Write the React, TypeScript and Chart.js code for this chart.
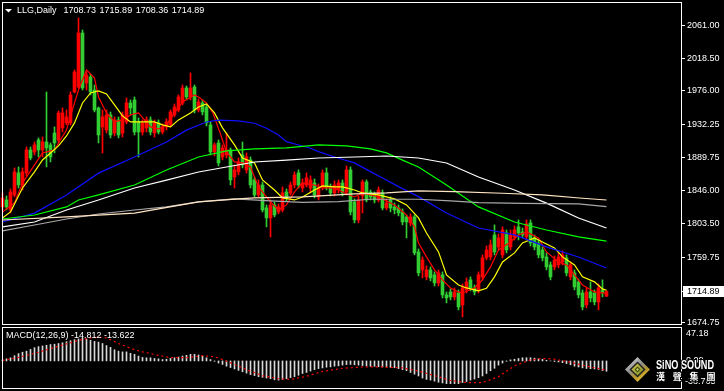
import React, { useEffect, useRef } from "react";
import { Chart, registerables } from "chart.js";
Chart.register(...registerables);

const FONT = '"Liberation Sans", Arial, sans-serif';
const UP = "#FF0000";
const DOWN = "#32CD32";

const symbolName = "LLG,Daily";

const opens = [
  1825.0, 1834.1, 1821.1, 1840.6, 1869.3, 1853.6, 1869.3, 1899.2, 1896.6, 1912.2,
  1899.2, 1909.6, 1905.7, 1921.3, 1912.2, 1927.9, 1934.4, 1934.4, 1974.7, 1981.2,
  2051.5, 1986.4, 1994.2, 1977.3, 1953.9, 1929.2, 1925.2, 1944.8, 1921.3, 1938.3,
  1921.3, 1935.7, 1960.4, 1964.3, 1935.7, 1922.6, 1927.9, 1938.3, 1921.3, 1934.4,
  1922.6, 1929.2, 1931.8, 1944.8, 1951.3, 1960.4, 1979.9, 1968.2, 1981.2, 1951.3,
  1960.4, 1955.2, 1931.8, 1896.6, 1908.3, 1890.1, 1892.7, 1899.2, 1864.1, 1870.6,
  1892.7, 1873.2, 1886.2, 1860.2, 1840.6, 1853.6, 1823.7, 1810.7, 1827.6, 1818.5,
  1821.1, 1844.5, 1843.2, 1853.6, 1869.3, 1849.7, 1853.6, 1849.7, 1856.2, 1838.0,
  1851.0, 1869.3, 1851.0, 1843.2, 1847.1, 1856.2, 1844.5, 1873.2, 1831.5, 1808.1,
  1839.3, 1857.5, 1844.5, 1840.6, 1834.1, 1843.2, 1823.7, 1834.1, 1825.0, 1823.7,
  1818.5, 1812.0, 1804.2, 1812.0, 1766.4, 1743.0, 1733.9, 1743.0, 1736.5, 1726.1,
  1736.5, 1710.4, 1714.3, 1707.8, 1713.0, 1697.4, 1716.9, 1730.0, 1719.5, 1716.9,
  1733.9, 1758.6, 1759.9, 1788.5, 1772.9, 1762.5, 1791.1, 1772.9, 1785.9, 1799.0,
  1792.4, 1785.9, 1804.2, 1784.6, 1778.1, 1769.0, 1759.9, 1749.5, 1746.9, 1749.5,
  1753.4, 1758.6, 1733.9, 1739.1, 1727.4, 1713.0, 1697.4, 1714.3, 1713.0, 1701.3,
  1716.9, 1708.73,
];
const highs = [
  1843.2, 1839.3, 1848.4, 1875.8, 1877.1, 1875.8, 1903.1, 1903.1, 1909.6, 1914.8,
  1916.1, 1974.7, 1908.3, 1929.2, 1950.0, 1953.9, 1951.3, 1974.7, 2003.4, 2071.1,
  2055.4, 2000.8, 1998.2, 1983.8, 1955.2, 1951.3, 1951.3, 1948.7, 1942.2, 1942.2,
  1948.7, 1966.9, 1964.3, 1968.2, 1940.9, 1938.3, 1942.2, 1942.2, 1938.3, 1938.3,
  1933.1, 1939.6, 1951.3, 1959.1, 1970.8, 1983.8, 1982.5, 1999.5, 1983.8, 1965.6,
  1964.3, 1957.8, 1935.7, 1908.3, 1912.2, 1905.7, 1921.3, 1901.8, 1879.7, 1888.8,
  1909.6, 1895.3, 1890.1, 1864.1, 1860.2, 1857.5, 1827.6, 1834.1, 1831.5, 1828.9,
  1851.0, 1848.4, 1857.5, 1870.6, 1873.2, 1861.5, 1869.3, 1865.4, 1861.5, 1854.9,
  1873.2, 1875.8, 1854.9, 1858.9, 1860.2, 1860.2, 1878.4, 1877.1, 1835.4, 1839.3,
  1860.2, 1860.2, 1847.1, 1844.5, 1851.0, 1847.1, 1835.4, 1838.0, 1830.2, 1827.6,
  1822.4, 1814.6, 1815.9, 1814.6, 1770.3, 1759.9, 1748.2, 1746.9, 1740.4, 1743.0,
  1740.4, 1714.3, 1718.2, 1719.5, 1716.9, 1724.7, 1732.6, 1733.9, 1723.4, 1740.4,
  1762.5, 1774.2, 1782.0, 1801.6, 1789.8, 1799.0, 1795.0, 1795.0, 1800.3, 1808.1,
  1797.6, 1808.1, 1808.1, 1788.5, 1782.0, 1772.9, 1765.1, 1753.4, 1761.2, 1765.1,
  1767.7, 1762.5, 1753.4, 1743.0, 1731.3, 1716.9, 1719.5, 1727.4, 1716.9, 1724.7,
  1730.0, 1715.89,
];
const lows = [
  1821.1, 1821.1, 1817.2, 1838.0, 1849.7, 1847.1, 1865.4, 1886.2, 1892.7, 1890.1,
  1890.1, 1877.1, 1883.6, 1895.3, 1908.3, 1922.6, 1931.8, 1931.8, 1973.4, 1979.9,
  1977.3, 1977.3, 1970.8, 1948.7, 1908.3, 1895.3, 1921.3, 1914.8, 1917.4, 1914.8,
  1916.1, 1933.1, 1944.8, 1918.7, 1890.1, 1918.7, 1922.6, 1918.7, 1916.1, 1920.0,
  1920.0, 1925.2, 1929.2, 1942.2, 1948.7, 1957.8, 1964.3, 1964.3, 1947.4, 1948.7,
  1944.8, 1930.5, 1892.7, 1891.4, 1878.4, 1886.2, 1888.8, 1853.6, 1849.7, 1866.7,
  1875.8, 1869.3, 1849.7, 1838.0, 1838.0, 1818.5, 1799.0, 1785.9, 1812.0, 1815.9,
  1818.5, 1832.8, 1840.6, 1849.7, 1849.7, 1844.5, 1851.0, 1843.2, 1836.7, 1834.1,
  1847.1, 1847.1, 1839.3, 1839.3, 1843.2, 1839.3, 1840.6, 1814.6, 1804.2, 1804.2,
  1817.2, 1831.5, 1834.1, 1830.2, 1831.5, 1821.1, 1821.1, 1818.5, 1815.9, 1813.3,
  1801.6, 1784.6, 1800.3, 1762.5, 1735.2, 1732.6, 1730.0, 1728.7, 1722.1, 1722.1,
  1706.5, 1700.0, 1703.9, 1703.9, 1690.9, 1681.8, 1713.0, 1715.6, 1710.4, 1713.0,
  1730.0, 1756.0, 1756.0, 1762.5, 1769.0, 1758.6, 1765.1, 1769.0, 1782.0, 1782.0,
  1784.6, 1782.0, 1774.2, 1769.0, 1758.6, 1754.7, 1743.0, 1730.0, 1743.0, 1745.6,
  1749.5, 1735.2, 1730.0, 1716.9, 1706.5, 1690.9, 1693.5, 1701.3, 1697.4, 1690.9,
  1707.8, 1708.36,
];
const closes = [
  1836.7, 1825.0, 1844.5, 1870.6, 1853.6, 1870.6, 1899.2, 1888.8, 1905.7, 1899.2,
  1909.6, 1901.8, 1890.1, 1908.3, 1947.4, 1947.4, 1942.2, 1970.8, 2000.8, 2051.5,
  1979.9, 1996.9, 1974.7, 1951.3, 1918.7, 1942.2, 1944.8, 1918.7, 1938.3, 1918.7,
  1944.8, 1960.4, 1953.9, 1922.6, 1922.6, 1934.4, 1938.3, 1922.6, 1934.4, 1922.6,
  1929.2, 1935.7, 1948.7, 1955.2, 1968.2, 1979.9, 1968.2, 1979.9, 1951.3, 1961.7,
  1948.7, 1934.4, 1896.6, 1905.7, 1882.3, 1901.8, 1899.2, 1860.2, 1873.2, 1883.6,
  1879.7, 1890.1, 1853.6, 1840.6, 1853.6, 1821.1, 1810.7, 1827.6, 1814.6, 1825.0,
  1843.2, 1836.7, 1853.6, 1866.7, 1853.6, 1856.2, 1862.8, 1860.2, 1840.6, 1849.7,
  1869.3, 1849.7, 1843.2, 1853.6, 1856.2, 1843.2, 1873.2, 1818.5, 1808.1, 1834.1,
  1857.5, 1834.1, 1838.0, 1834.1, 1847.1, 1823.7, 1830.2, 1823.7, 1821.1, 1817.2,
  1805.5, 1805.5, 1812.0, 1765.1, 1739.1, 1756.0, 1743.0, 1732.6, 1726.1, 1739.1,
  1710.4, 1706.5, 1707.8, 1714.3, 1694.8, 1719.5, 1727.4, 1719.5, 1714.3, 1736.5,
  1758.6, 1769.0, 1775.5, 1766.4, 1784.6, 1795.0, 1769.0, 1788.5, 1795.0, 1791.1,
  1788.5, 1802.9, 1778.1, 1772.9, 1762.5, 1758.6, 1746.9, 1733.9, 1756.0, 1759.9,
  1762.5, 1739.1, 1749.5, 1720.8, 1710.4, 1694.8, 1714.3, 1706.5, 1701.3, 1719.5,
  1713.0, 1714.89,
];

// moving averages: [bar index, price]
const maRed = [[0,1818.5],[3,1830.2],[5,1856.2],[8,1879.7],[10,1895.3],[13,1899.2],[14,1908.3],[16,1925.2],[18,1960.4],[19,1977.3],[21,2003.4],[23,1992.9],[24,1968.2],[26,1947.4],[28,1935.7],[30,1938.3],[32,1944.8],[34,1947.4],[37,1929.2],[39,1926.5],[41,1931.8],[43,1947.4],[45,1961.7],[48,1970.8],[49,1968.2],[51,1960.4],[52.6,1947.4],[54.4,1921.3],[56,1896.6],[58,1883.6],[60,1882.3],[62,1877.1],[64,1851],[67,1831.5],[69,1821.1],[71,1827.6],[73,1844.5],[75,1856.2],[78,1853.6],[80,1849.7],[83,1849.7],[85,1844.5],[88,1838],[90,1843.2],[94,1838],[98,1827.6],[101,1814.6],[103,1799],[104,1778.1],[106,1759.9],[108,1743],[110,1730],[112,1719.5],[114,1714.3],[115,1713],[118,1719.5],[120,1730],[122,1746.9],[124,1769],[127,1779.4],[129,1788.5],[131,1792.4],[134,1784.6],[136,1766.4],[139,1753.4],[141,1749.5],[143,1736.5],[145,1723.4],[148,1714.3],[150,1713],[151,1712.5]];
const maYellow = [[0,1810.7],[2,1818.5],[5,1849.7],[8,1870.6],[10,1886.2],[12,1895.3],[14,1904.4],[16,1917.4],[18,1934.4],[20,1960.4],[22,1973.4],[24,1976],[26,1972.1],[28,1957.8],[30,1943.5],[32,1935.7],[34,1935.7],[38,1935.7],[40,1931.8],[42,1929.2],[44,1938.3],[47,1947.4],[49,1955.2],[51,1959.1],[53,1947.4],[55,1927.9],[58,1905.7],[60,1888.8],[63,1882.3],[65,1860.2],[68,1847.1],[70,1836.7],[73,1834.1],[75,1838],[78,1847.1],[80,1852.3],[83,1851],[85,1851],[88,1847.1],[90,1843.2],[94,1840.6],[98,1835.4],[101,1827.6],[104,1810.7],[106,1791.1],[109,1766.4],[111,1736.5],[114,1723.4],[116,1719.5],[119,1715.6],[121,1719],[123,1733.9],[125,1753.4],[128,1765.1],[130,1778.1],[133,1784.6],[135,1779.4],[138,1771.6],[140,1759.9],[143,1749.5],[145,1733.9],[148,1727.4],[150,1718.2],[151,1716.5]];
const maBlue = [[0,1805.4],[8,1817],[16,1840.6],[24,1869],[33,1890],[41,1909.6],[46,1925],[51,1935.6],[54,1938],[59,1937],[63,1934],[66,1927.5],[69,1918.7],[71,1910],[74,1905.7],[77,1901.4],[79,1897],[84,1888.4],[88,1882.3],[92,1871],[95,1862.7],[99,1851.4],[104,1838.4],[111,1817],[119,1797.6],[128,1788.5],[136,1772.9],[144,1759.8],[151,1745.5]];
const maGreen = [[0,1809.3],[8,1814.5],[16,1825],[19,1834.1],[24,1840.6],[33,1853.6],[41,1873],[49,1890],[56,1898],[63,1900.5],[71,1901.8],[79,1905.7],[86,1904.4],[92,1900.5],[96,1895.3],[100,1886],[104,1877],[111,1853.6],[119,1825],[128,1805.4],[136,1795],[144,1786],[151,1780.5]];
const maWhite = [[0,1798.9],[8,1805.4],[16,1821],[24,1834],[33,1849.7],[41,1860],[49,1870.5],[56,1877],[63,1883.5],[71,1886],[79,1888.7],[88,1890],[96,1891.3],[104,1888.7],[111,1882.2],[119,1864],[128,1847],[136,1830],[144,1810.6],[151,1797.6]];
const maGray = [[0,1793.7],[8,1801.5],[16,1809.3],[24,1815.8],[33,1821],[41,1825],[49,1831.5],[58,1835.4],[67,1833],[75,1831],[84,1832],[92,1835],[104,1835],[112,1833],[119,1830.6],[130,1829.5],[144,1828.9],[151,1825.4]];
const maPeach = [[0,1808],[16,1812],[33,1817],[49,1831.5],[59,1835.4],[63,1836.7],[75,1838],[88,1842],[96,1843.3],[104,1845.9],[113,1845],[125,1842.8],[135,1840.6],[145,1836.3],[151,1834]];

const priceTicks = [2061.0, 2018.5, 1976.0, 1932.25, 1889.75, 1846.0, 1803.5, 1759.75, 1674.75];

const macdTitle = "MACD(12,26,9)";
const macdMain = [
  1.5, 3, 4.5, 7.5, 10.5, 12.5, 14, 16.5, 19, 20.5,
  21.5, 22.5, 23.5, 24, 25, 26, 27.5, 29, 30.5, 31.5,
  33, 31.5, 29.5, 28, 27, 25, 22, 19.5, 16, 14,
  13, 13, 11, 9.5, 7, 5, 4.5, 4.5, 3.5, 3,
  2, 2.5, 3.5, 4.5, 5.5, 7, 8, 9.5, 9.5, 8.5,
  7, 4.5, 2, -0.5, -3, -5, -7.5, -9.5, -11.5, -13.5,
  -15.5, -17.5, -19.5, -21, -22.5, -23.5, -24.5, -25.5, -27, -27.5,
  -26.5, -25.5, -24, -22.5, -20.5, -18, -16.5, -14.5, -12.5, -11,
  -10, -9, -8.5, -7.5, -7, -6, -5.2, -5, -5.5, -6,
  -6.7, -7.2, -7.7, -7.7, -8.2, -8.7, -8.7, -9.2, -9.7, -11,
  -12.5, -14, -16.5, -19, -21.5, -24.5, -26.5, -27.5, -29, -30.5,
  -31.5, -32.5, -32.5, -32.5, -32.5, -31, -29.5, -27.5, -26, -24,
  -21.5, -18, -14, -10.5, -6, -3, -0.5, 1.5, 2.5, 3.5,
  4.5, 4.6, 4.6, 4, 3, 2.2, 1, 0, -0.8, -1.5,
  -2.5, -3.8, -5.5, -7.5, -8.7, -10, -10.8, -11.2, -11.5, -12.2,
  -13.7, -14.812,
];
const macdSignal = [[0,0.7],[4,5],[9,12.5],[14,21],[19,29.5],[22,33],[24,34],[26,33],[29,25],[32,18],[35,13],[39,8],[42,4.7],[46,4.7],[50,7.5],[53,6],[55,2],[58,-5],[61,-12.5],[65,-21],[69,-25.5],[72,-26.5],[76,-22],[80,-15],[85,-10.5],[90,-8.7],[95,-8.5],[100,-10],[104,-14.5],[108,-21],[112,-28],[116,-31],[120,-31],[124,-22.5],[128,-7],[132,1.5],[135,3.5],[138,2.5],[142,-1.8],[146,-7.5],[150,-12],[151,-13.622]];
const macdTicks = [47.18, 0.0, -38.765];
const macdTickLabels = ["47.18", "0.00", "-38.765"];

const logoText = "SiNO SOUND";
const logoChinese = ["漢", "聲", "集", "團"];

const N = closes.length;
const X_MIN = 0.125;
const X_MAX = X_MIN + 169.5;
const Y_MIN = 1672.54;
const Y_MAX = 2090.56;

const xScale = { type: "linear", min: X_MIN, max: X_MAX, display: false, offset: false };

function drawFrame(ctx: CanvasRenderingContext2D, a: any) {
  const L = a.left - 1, R = a.right, T = a.top - 1, B = a.bottom;
  ctx.fillStyle = "#FFFFFF";
  ctx.fillRect(L, T, R - L + 1, 1);
  ctx.fillRect(L, B, R - L + 1, 1);
  ctx.fillRect(L, T, 1, B - T + 1);
  ctx.fillRect(R, T, 1, B - T + 1);
}

const maLine = (pts: number[][], color: string) => ({
  type: "line",
  data: pts.map(([x, y]) => ({ x, y })),
  borderColor: color,
  borderWidth: 1.2,
  pointRadius: 0,
  tension: 0,
  fill: false,
  order: 0,
  clip: false,
});

function MainChart() {
  const ref = useRef<HTMLCanvasElement>(null);
  useEffect(() => {
    const idx = closes.map((_, i) => i);
    const colors = closes.map((c, i) => (c >= opens[i] ? UP : DOWN));
    const decor = {
      id: "mainDecor",
      afterDraw(chart: any) {
        const ctx = chart.ctx as CanvasRenderingContext2D;
        const a = chart.chartArea;
        ctx.save();
        drawFrame(ctx, a);
        ctx.fillStyle = "#FFFFFF";
        ctx.beginPath();
        ctx.moveTo(5, 9);
        ctx.lineTo(12, 9);
        ctx.lineTo(8.5, 12.5);
        ctx.closePath();
        ctx.fill();
        ctx.font = `9px ${FONT}`;
        ctx.textBaseline = "middle";
        ctx.textAlign = "left";
        ctx.fillText(symbolName, 17, 11);
        const last = N - 1;
        [opens[last], highs[last], lows[last], closes[last]].forEach((v, k) =>
          ctx.fillText(v.toFixed(2), 63.5 + k * 36.1, 11)
        );
        const ys = chart.scales.y;
        const py = Math.round(ys.getPixelForValue(closes[last]));
        ctx.fillStyle = "#FFFFFF";
        ctx.fillRect(a.right + 2, py - 5, chart.width - a.right - 2, 11);
        ctx.fillRect(a.right, py, 2, 1);
        ctx.fillStyle = "#000000";
        ctx.fillText(closes[last].toFixed(2), a.right + 6, py + 0.5);
        ctx.restore();
      },
    };
    const chart = new Chart(ref.current as HTMLCanvasElement, {
      type: "bar",
      data: {
        datasets: [
          maLine(maPeach, "#FFE4C4"),
          maLine(maGray, "#A8A8A8"),
          maLine(maWhite, "#FFFFFF"),
          maLine(maGreen, "#00FF00"),
          maLine(maBlue, "#1010FF"),
          maLine(maYellow, "#FFFF00"),
          maLine(maRed, "#FF0000"),
          {
            type: "bar",
            data: idx.map((i) => ({ x: i, y: [lows[i], highs[i]] })),
            backgroundColor: colors,
            borderWidth: 0,
            barThickness: 1,
            grouped: false,
            order: 2,
            clip: false,
          },
          {
            type: "bar",
            data: idx.map((i) => ({ x: i, y: [opens[i], closes[i]] })),
            backgroundColor: colors,
            borderWidth: 0,
            barThickness: 3,
            grouped: false,
            order: 1,
            clip: false,
          },
        ] as any,
      },
      options: {
        responsive: false,
        maintainAspectRatio: false,
        animation: false,
        devicePixelRatio: 1,
        events: [],
        layout: { padding: { left: 3, top: 3, bottom: 2, right: 0 } },
        plugins: { legend: { display: false }, tooltip: { enabled: false } },
        scales: {
          x: xScale as any,
          y: {
            position: "right",
            min: Y_MIN,
            max: Y_MAX,
            afterBuildTicks: (s: any) => {
              s.ticks = priceTicks.map((v) => ({ value: v }));
            },
            afterFit: (s: any) => {
              s.width = 43;
              s.paddingTop = 0;
              s.paddingBottom = 0;
            },
            ticks: {
              color: "#FFFFFF",
              font: { family: FONT, size: 9 },
              padding: 2,
              autoSkip: false,
              callback: (v: any) => Number(v).toFixed(2),
            },
            grid: { drawOnChartArea: false, drawTicks: true, tickLength: 4, color: "#FFFFFF", lineWidth: 1 },
            border: { display: false },
          } as any,
        },
      },
      plugins: [decor],
    });
    return () => chart.destroy();
  }, []);
  return (
    <canvas
      ref={ref}
      width={724}
      height={326}
      style={{ position: "absolute", left: 0, top: 0, width: 724, height: 326 }}
    />
  );
}

function MacdChart() {
  const ref = useRef<HTMLCanvasElement>(null);
  useEffect(() => {
    const decor = {
      id: "macdDecor",
      afterDraw(chart: any) {
        const ctx = chart.ctx as CanvasRenderingContext2D;
        const a = chart.chartArea;
        const ys = chart.scales.y;
        ctx.save();
        drawFrame(ctx, a);
        ctx.fillStyle = "#FFFFFF";
        ctx.font = `9px ${FONT}`;
        ctx.textAlign = "left";
        ctx.textBaseline = "middle";
        const last = macdMain.length - 1;
        const sigLast = macdSignal[macdSignal.length - 1][1];
        ctx.fillText(`${macdTitle} ${macdMain[last].toFixed(3)} ${sigLast.toFixed(3)}`, 6, 10);
        // axis labels
        const lx = a.right + 5;
        ctx.textBaseline = "top";
        ctx.fillText(macdTickLabels[0], lx, ys.getPixelForValue(macdTicks[0]) + 1.5);
        ctx.textBaseline = "middle";
        ctx.fillText(macdTickLabels[1], lx, ys.getPixelForValue(macdTicks[1]));
        ctx.textBaseline = "bottom";
        ctx.fillText(macdTickLabels[2], lx - 1, ys.getPixelForValue(macdTicks[2]) - 1.5);
        // logo
        const cx = 637.5, cy = 43.5;
        const diamond = (r: number) => {
          ctx.beginPath();
          ctx.moveTo(cx, cy - r);
          ctx.lineTo(cx + r, cy);
          ctx.lineTo(cx, cy + r);
          ctx.lineTo(cx - r, cy);
          ctx.closePath();
        };
        const g = ctx.createLinearGradient(cx - 10, cy - 12, cx + 6, cy + 12);
        g.addColorStop(0, "#E0E0E0");
        g.addColorStop(0.45, "#8C8C8C");
        g.addColorStop(0.7, "#B8962A");
        g.addColorStop(1, "#E8C23A");
        diamond(12.5);
        ctx.fillStyle = g;
        ctx.fill();
        diamond(8);
        ctx.fillStyle = "#202020";
        ctx.fill();
        diamond(6);
        const g2 = ctx.createLinearGradient(cx - 6, cy - 6, cx + 6, cy + 6);
        g2.addColorStop(0, "#D8C850");
        g2.addColorStop(1, "#7A8A20");
        ctx.fillStyle = g2;
        ctx.fill();
        diamond(3);
        ctx.fillStyle = "#3A4A10";
        ctx.fill();
        diamond(1.5);
        ctx.fillStyle = "#C8D060";
        ctx.fill();
        // text
        ctx.textBaseline = "alphabetic";
        ctx.font = `bold 12px ${FONT}`;
        const w = ctx.measureText(logoText).width;
        ctx.save();
        ctx.translate(656, 43);
        ctx.scale(58 / w, 1);
        ctx.lineWidth = 2;
        ctx.strokeStyle = "#000000";
        ctx.strokeText(logoText, 0, 0);
        ctx.fillStyle = "#FFFFFF";
        ctx.fillText(logoText, 0, 0);
        ctx.restore();
        ctx.font = `bold 9px "Noto Sans CJK TC", "Noto Sans CJK SC", sans-serif`;
        logoChinese.forEach((ch, k) => {
          const x = 656 + k * 16.8;
          ctx.lineWidth = 2;
          ctx.strokeStyle = "#000000";
          ctx.strokeText(ch, x, 53.5);
          ctx.fillStyle = "#FFFFFF";
          ctx.fillText(ch, x, 53.5);
        });
        ctx.restore();
      },
    };
    const chart = new Chart(ref.current as HTMLCanvasElement, {
      type: "bar",
      data: {
        datasets: [
          {
            type: "line",
            data: macdSignal.map(([x, y]) => ({ x, y })),
            borderColor: "#FF0000",
            borderWidth: 1.2,
            borderDash: [2, 3],
            pointRadius: 0,
            tension: 0,
            fill: false,
            order: 0,
            clip: false,
          },
          {
            type: "bar",
            data: macdMain.map((v, i) => ({ x: i, y: v })),
            backgroundColor: "#D8D8D8",
            borderWidth: 0,
            barThickness: 1,
            grouped: false,
            order: 1,
            clip: false,
          },
        ] as any,
      },
      options: {
        responsive: false,
        maintainAspectRatio: false,
        animation: false,
        devicePixelRatio: 1,
        events: [],
        layout: { padding: { left: 3, top: 2, bottom: 3, right: 0 } },
        plugins: { legend: { display: false }, tooltip: { enabled: false } },
        scales: {
          x: xScale as any,
          y: {
            position: "right",
            min: macdTicks[2],
            max: macdTicks[0],
            afterBuildTicks: (s: any) => {
              s.ticks = macdTicks.map((v) => ({ value: v }));
            },
            afterFit: (s: any) => {
              s.width = 43;
              s.paddingTop = 0;
              s.paddingBottom = 0;
            },
            ticks: { display: false },
            grid: { display: false },
            border: { display: false },
          } as any,
        },
      },
      plugins: [decor],
    });
    return () => chart.destroy();
  }, []);
  return (
    <canvas
      ref={ref}
      width={724}
      height={65}
      style={{ position: "absolute", left: 0, top: 326, width: 724, height: 65 }}
    />
  );
}

export default function App() {
  return (
    <div
      style={{
        position: "fixed",
        left: 0,
        top: 0,
        width: 724,
        height: 391,
        background: "#000000",
        overflow: "hidden",
      }}
    >
      <MainChart />
      <MacdChart />
    </div>
  );
}
